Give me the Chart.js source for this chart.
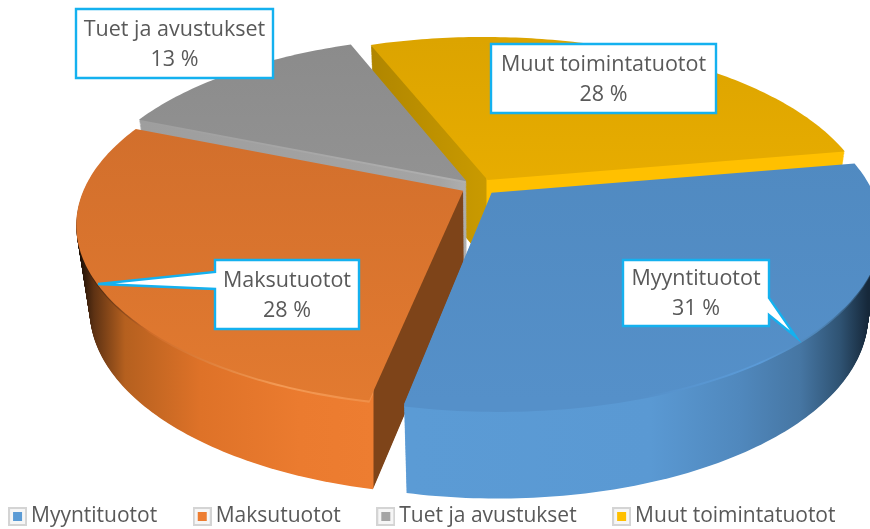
<!DOCTYPE html>
<html lang="fi">
<head>
<meta charset="utf-8">
<style>html,body{margin:0;padding:0;background:#fff;overflow:hidden}canvas{display:block}</style>
<script src="https://cdn.jsdelivr.net/npm/chart.js@4"></script>
</head>
<body>
<canvas id="c" width="870" height="529"></canvas>
<script>
const categories = ['Myyntituotot', 'Maksutuotot', 'Tuet ja avustukset', 'Muut toimintatuotot'];
const shares = [31, 28, 13, 28];
const sliceColors = ['#5B9BD5', '#ED7D31', '#A5A5A5', '#FFC000'];
const labelFont = '21.5px "Open Sans"';
const textColor = '#595959';
const calloutBorder = '#14B1EF';

// view of the pie plane: perspective camera
const view = { cx: 479, cy: 187, a: 378, b: 172.5, p: 0.19, lean: 3, depth: 84, converge: 0.0004 };
const paintOrder = [3, 2, 1, 0];
const topShades = [
  [[40, '#4e87bd'], [400, '#5590c9']],
  [[130, '#d26f2c'], [400, '#e27a30']],
  [[40, '#8b8b8b'], [180, '#929292']],
  [[40, '#dca400'], [190, '#e8ad00']]
];
const wallShades = [
  [[410, '#5b9bd5'], [650, '#5a99d3'], [740, '#5088bd'], [800, '#4676a3'], [840, '#2f5373'], [868, '#16283a']],
  [[80, '#1c0f06'], [94, '#5e3213'], [125, '#b5601f'], [200, '#de7228'], [300, '#eb7b2f'], [373, '#ed7d31'], [374, '#7e4419'], [470, '#7e4419']],
  [[140, '#9e9e9e'], [440, '#a4a4a4'], [470, '#b0b0b0']],
  [[370, '#b08600'], [486, '#c99a00'], [487, '#ffc000'], [850, '#ffc000']]
];
const rimShades = [
  [[410, '#5590c9'], [640, '#5590c9'], [760, '#5b9bd8'], [820, '#4f86b8'], [868, '#2a4a66']],
  [[76, '#1c0f06'], [150, '#cf6c28'], [280, '#f39a55'], [373, '#f08f48'], [374, '#7e4419'], [470, '#7e4419']],
  [[140, '#9e9e9e'], [470, '#b0b0b0']],
  [[370, '#b08600'], [486, '#c99a00'], [487, '#ffc000'], [850, '#ffc000']]
];
const callouts = [
  { box: [623, 260, 769, 326], tip: [796, 337], base: [[769, 298], [769, 315]] },
  { box: [215, 260, 359, 329], tip: [98, 284], base: [[215, 272], [215, 289]] },
  { box: [76, 9, 273, 78] },
  { box: [491, 44, 716, 113] }
];

function linear(ctx, stops, vertical) {
  const span = vertical ? 529 : 870;
  const g = vertical ? ctx.createLinearGradient(0, 0, 0, span) : ctx.createLinearGradient(0, 0, span, 0);
  stops.forEach(s => g.addColorStop(Math.min(1, s[0] / span), s[1]));
  return g;
}

// wraps the canvas context so the arc element's own path goes through the camera
function projected(ctx, arc, z) {
  const R = arc.outerRadius;
  let tx = 0, ty = 0;
  const stack = [];
  const pt = (px, py) => {
    const x = (px + tx - arc.x) / R, y = (py + ty - arc.y) / R;
    const w = 1 - view.p * y;
    const shrink = 1 - view.converge * z.value;
    return [view.cx + shrink * (view.a * x + view.lean * y) / w, view.cy + view.b * y / w + z.value / Math.pow(w, 0.25)];
  };
  let started = false;
  const api = {
    save() { stack.push([tx, ty]); ctx.save(); },
    restore() { [tx, ty] = stack.pop(); ctx.restore(); },
    translate(dx, dy) { tx += dx; ty += dy; },
    beginPath() { started = false; ctx.beginPath(); },
    moveTo(x, y) { const q = pt(x, y); ctx.moveTo(q[0], q[1]); started = true; },
    lineTo(x, y) { const q = pt(x, y); started ? ctx.lineTo(q[0], q[1]) : ctx.moveTo(q[0], q[1]); started = true; },
    arc(x, y, r, s, e, ccw) {
      let d = e - s;
      if (ccw && d > 0) d -= Math.PI * 2;
      if (!ccw && d < 0) d += Math.PI * 2;
      const n = Math.max(1, Math.ceil(Math.abs(d) * 60));
      for (let i = 0; i <= n; i++) {
        const t = s + d * i / n;
        api.lineTo(x + r * Math.cos(t), y + r * Math.sin(t));
      }
    }
  };
  return new Proxy(ctx, {
    get(t, k) {
      if (k in api) return api[k];
      const v = t[k];
      return typeof v === 'function' ? v.bind(t) : v;
    },
    set(t, k, v) {
      if (k === 'fillStyle' && z.fill) { t.fillStyle = z.fill; return true; }
      t[k] = v; return true;
    }
  });
}

const pie3d = {
  id: 'pie3d',
  beforeDatasetsDraw(chart) {
    const ctx = chart.ctx;
    const arcs = chart.getDatasetMeta(0).data;
    paintOrder.forEach(i => {
      const arc = arcs[i];
      const state = { value: 0, fill: null };
      const pctx = projected(ctx, arc, state);
      state.fill = linear(ctx, wallShades[i], false);
      for (let z = view.depth; z >= 2; z -= 0.8) { state.value = z; arc.draw(pctx); }
      state.fill = linear(ctx, rimShades[i], false);
      state.value = 2; arc.draw(pctx);
      state.value = 1; arc.draw(pctx);
      state.fill = linear(ctx, topShades[i], true);
      state.value = 0; arc.draw(pctx);
    });
    return false;
  },
  afterDraw(chart) {
    const ctx = chart.ctx;
    ctx.save();
    callouts.forEach((c, i) => {
      const [x0, y0, x1, y1] = c.box;
      ctx.beginPath();
      ctx.moveTo(x0, y0);
      if (c.tip && c.base[0][0] === x1) {
        ctx.lineTo(x1, y0); ctx.lineTo(x1, c.base[0][1]); ctx.lineTo(c.tip[0], c.tip[1]); ctx.lineTo(x1, c.base[1][1]);
        ctx.lineTo(x1, y1); ctx.lineTo(x0, y1);
      } else {
        ctx.lineTo(x1, y0); ctx.lineTo(x1, y1); ctx.lineTo(x0, y1);
        if (c.tip) { ctx.lineTo(x0, c.base[1][1]); ctx.lineTo(c.tip[0], c.tip[1]); ctx.lineTo(x0, c.base[0][1]); }
      }
      ctx.closePath();
      ctx.fillStyle = '#fff';
      ctx.fill();
      ctx.strokeStyle = calloutBorder;
      ctx.lineWidth = 2.4;
      ctx.lineJoin = 'miter';
      ctx.stroke();
      ctx.fillStyle = textColor;
      ctx.font = labelFont;
      ctx.textAlign = 'center';
      ctx.textBaseline = 'middle';
      const mx = (x0 + x1) / 2, my = (y0 + y1) / 2;
      ctx.fillText(categories[i], mx, my - 14);
      ctx.fillText(shares[i] + ' %', mx, my + 16);
    });
    ctx.restore();
  }
};

function marker(color) {
  const m = document.createElement('canvas');
  m.width = 19; m.height = 19;
  const g = m.getContext('2d');
  g.fillStyle = '#d4d4d4'; g.fillRect(0, 0, 19, 19);
  g.fillStyle = '#f6f6f6'; g.fillRect(2, 2, 15, 15);
  g.fillStyle = color; g.fillRect(5, 5, 9, 9);
  return m;
}

new Chart(document.getElementById('c'), {
  type: 'pie',
  data: {
    labels: categories,
    datasets: [{ data: shares, backgroundColor: sliceColors, borderWidth: 0, offset: 40 }]
  },
  plugins: [pie3d],
  options: {
    responsive: false,
    animation: false,
    rotation: 80,
    layout: { padding: { left: -40, right: -20, bottom: -8 } },
    plugins: {
      tooltip: { enabled: false },
      legend: {
        position: 'bottom',
        labels: {
          font: { family: 'Open Sans', size: 21 },
          color: textColor,
          usePointStyle: true,
          pointStyleWidth: 6,
          padding: 42,
          generateLabels: chart => categories.map((t, i) => ({
            text: t, pointStyle: marker(sliceColors[i]), fontColor: textColor, lineWidth: 0, index: i, hidden: false
          }))
        }
      }
    }
  }
});
</script>
</body>
</html>
